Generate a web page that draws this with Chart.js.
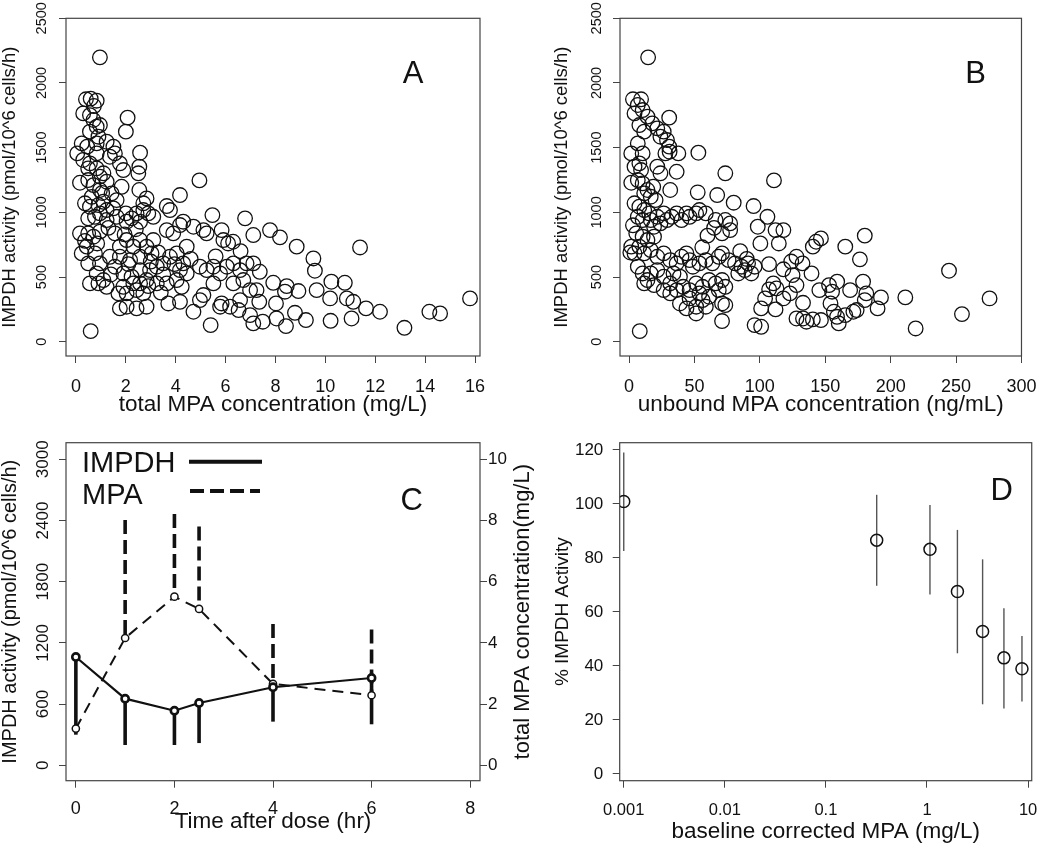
<!DOCTYPE html>
<html>
<head>
<meta charset="utf-8">
<script src="https://cdn.jsdelivr.net/npm/chart.js@4.4.1/dist/chart.umd.min.js"></script>
<style>
body { margin: 0; background: #fff; }
#wrap { position: relative; width: 1050px; height: 843px; overflow: hidden; }
canvas { position: absolute; }
</style>
</head>
<body>
<div id="wrap">
<canvas id="panelA" width="525" height="420" style="left:0;top:0;z-index:1"></canvas>
<canvas id="panelB" width="525" height="420" style="left:525px;top:0;z-index:1"></canvas>
<canvas id="panelC" width="560" height="423" style="left:0;top:420px;z-index:1"></canvas>
<canvas id="panelD" width="525" height="423" style="left:525px;top:420px;z-index:2"></canvas>
</div>
<script>
// panel A: total MPA (mg/L) vs IMPDH activity
const aTotalMpa = [0.96,0.40,0.59,0.83,0.72,0.29,0.56,0.70,0.83,0.96,0.56,0.90,2.07,2.00,0.23,0.45,0.83,1.23,1.50,1.56,
  1.36,0.83,0.05,0.29,0.56,0.49,0.83,0.96,1.10,1.76,1.90,2.57,2.54,2.50,2.54,0.16,0.49,0.70,0.96,1.23,
  1.43,1.83,1.63,2.83,2.70,4.95,4.17,3.64,3.77,0.36,0.56,0.90,1.10,1.23,1.50,0.96,0.49,0.76,1.23,1.63,
  2.00,2.23,2.43,2.70,2.90,3.10,2.57,2.03,5.47,6.78,3.64,3.90,4.17,4.30,4.71,5.11,5.24,5.84,5.91,6.10,
  6.30,7.11,7.78,8.18,8.85,9.52,9.58,9.65,11.39,0.49,0.70,0.96,0.43,0.76,0.96,1.36,0.23,0.49,0.83,1.10,
  0.56,0.90,1.23,1.56,1.76,2.03,2.30,2.57,2.83,3.10,3.03,2.57,2.17,1.76,1.56,1.90,2.23,2.57,2.97,3.24,
  3.50,3.77,4.04,4.44,4.30,4.17,4.44,4.04,4.24,3.64,3.24,2.83,2.57,2.30,1.90,1.70,2.03,2.43,2.70,1.76,
  2.03,2.43,2.83,3.70,4.17,4.71,4.97,5.11,5.40,4.97,5.24,5.51,5.78,6.05,6.31,6.58,6.84,7.11,7.37,6.71,
  6.31,6.98,7.24,6.58,6.18,6.52,6.98,7.11,7.49,7.35,5.78,5.84,5.51,7.91,8.45,8.38,8.92,8.02,8.04,8.42,
  8.78,9.22,10.19,10.24,10.21,10.78,10.86,11.12,11.05,11.63,12.19,13.17,14.17,14.60,15.80,0.59,0.16,0.36,0.63,1.05,
  1.30,0.85,1.95,2.40,3.30,3.50,1.40,2.10,3.00,3.95,4.60,5.60,6.60,2.90,3.40];
const aImpdh = [2198,1874,1879,1863,1822,1765,1752,1714,1662,1675,1624,1585,1732,1624,1533,1508,1533,1546,1508,1456,
  1430,1456,1456,1405,1379,1340,1340,1276,1302,1379,1327,1461,1353,1302,1173,1229,1250,1211,1173,1237,
  1147,1198,1095,1108,1070,1247,1134,1049,1018,1070,1044,1057,1082,1018,1031,992,954,966,941,966,
  992,954,992,1018,992,966,928,928,979,954,863,838,902,928,889,863,838,863,786,760,
  773,825,863,807,735,644,549,399,729,838,812,851,735,683,606,657,683,606,528,477,
  451,451,425,838,735,786,735,786,735,786,683,657,631,657,580,528,503,554,554,580,
  606,657,683,735,606,554,528,477,425,451,451,477,451,451,425,374,374,399,374,258,
  271,258,271,296,309,232,322,361,129,580,554,580,528,580,606,554,606,606,541,477,
  451,399,399,322,271,245,206,142,155,309,271,296,451,456,430,387,392,296,180,121,
  224,168,335,464,162,456,335,309,180,258,232,108,232,219,335,82,838,780,1120,1150,
  880,760,830,870,690,520,520,600,620,600,640,660,700,430,380];

// panel B: unbound MPA (ng/mL) vs IMPDH activity
const bFreeMpa = [14.6,3.0,9.2,6.7,4.2,10.4,14.1,17.8,21.6,26.5,24.0,29.0,30.7,27.8,31.0,30.7,11.6,7.9,1.7,6.7,
  10.4,7.9,4.2,9.2,1.7,6.7,10.4,11.6,14.1,18.5,16.6,20.3,37.7,36.4,31.5,24.0,21.6,53.0,52.5,73.6,
  67.4,80.0,95.2,110.8,105.8,98.4,100.4,112.0,118.0,114.5,128.0,132.6,139.5,140.5,143.0,146.7,165.3,176.5,180.2,178.9,
  181.4,180.2,190.0,192.6,211.2,219.1,244.6,254.5,275.6,152.9,159.1,155.2,145.5,169.0,154.0,156.6,159.0,160.3,146.7,140.5,
  133.0,135.6,128.0,133.0,128.0,125.0,123.0,118.0,112.7,110.3,107.1,104.0,101.0,112.0,96.0,101.0,171.5,165.3,174.0,4.2,
  7.9,11.6,15.4,6.7,10.4,16.6,21.6,26.5,19.1,24.0,29.0,32.7,36.4,40.1,43.9,46.3,51.3,53.8,58.7,66.2,
  73.6,77.3,71.1,77.3,5.5,10.4,14.1,19.1,7.9,11.6,16.6,21.6,26.5,31.5,36.4,40.1,43.9,46.3,48.8,53.8,
  58.7,63.7,68.6,71.1,76.1,81.0,86.0,91.0,96.0,93.5,88.5,83.5,4.2,1.7,6.7,10.4,14.1,19.1,11.6,16.6,
  21.6,26.5,31.5,34.0,38.9,41.4,46.3,51.3,56.2,61.2,66.2,71.1,73.6,68.6,61.2,56.2,51.3,43.9,38.9,46.3,
  53.8,71.1,73.6,71.1,51.3,58.7,31.5,26.5,36.4,8.2,1.0,3.0,60.0,65.0,85.0,90.0,118.0,107.0,124.0,56.0];
const bImpdh = [2198,1874,1874,1830,1765,1791,1740,1688,1649,1624,1585,1559,1508,1456,1469,1732,1624,1675,1456,1533,
  1456,1379,1353,1327,1229,1250,1224,1147,1173,1198,1121,1095,1456,1314,1173,1302,1353,1461,1155,1302,
  1134,1075,1049,1247,966,889,760,863,863,760,657,606,528,735,773,799,735,637,820,464,
  374,322,258,343,343,103,549,214,335,438,464,387,399,399,296,232,193,142,168,173,
  180,155,180,301,438,515,374,335,412,451,405,335,258,250,129,116,232,206,245,1070,
  1044,1018,992,966,941,941,966,992,889,915,941,966,992,941,992,966,992,1018,992,941,
  941,915,838,863,838,812,786,812,735,683,709,657,683,631,606,657,683,631,580,606,
  631,606,657,683,631,606,580,606,580,528,554,528,683,735,580,528,477,438,451,528,
  554,503,451,528,503,425,399,451,425,477,451,477,425,399,348,322,271,258,296,335,
  374,296,283,160,219,271,374,399,399,82,690,900,820,880,700,640,560,600,620,730];

// panel C: time course
const timesC = [0, 1, 2, 2.5, 4, 6];
const impdhC = [1062, 653, 535, 611, 765, 856];
const impdhLowC = [300, 199, 199, 218, 428, 402];
const mpaC = [1.20, 4.16, 5.51, 5.11, 2.66, 2.29];
const mpaHighC = [null, 8.02, 8.21, 7.80, 4.62, 4.44];

// panel D: % activity vs baseline corrected MPA
const mpaD = [0.001, 0.318, 1.07, 2.0, 3.55, 5.77, 8.7];
const pctD = [100.9, 86.6, 83.2, 67.6, 52.8, 43.0, 39.0];
const pctLowD = [82.6, 69.7, 66.5, 44.7, 25.8, 24.2, 26.8];
const pctHighD = [119.1, 103.4, 99.6, 90.4, 79.5, 61.4, 51.1];

// tick values
const xTicksA = [0, 2, 4, 6, 8, 10, 12, 14, 16];
const xTicksB = [0, 50, 100, 150, 200, 250, 300];
const yTicksAB = [0, 500, 1000, 1500, 2000, 2500];
const xTicksC = [0, 2, 4, 6, 8];
const yTicksC = [0, 600, 1200, 1800, 2400, 3000];
const y2TicksC = [0, 2, 4, 6, 8, 10];
const xTicksD = [0.001, 0.01, 0.1, 1, 10];
const yTicksD = [0, 20, 40, 60, 80, 100, 120];

const FONT = "'Liberation Sans', Arial, Helvetica, sans-serif";
Chart.defaults.font.family = FONT;
Chart.defaults.color = '#111';
Chart.defaults.animation = false;
Chart.defaults.events = [];
Chart.defaults.plugins.legend.display = false;
Chart.defaults.plugins.tooltip.enabled = false;

function pairs(xs, ys) {
  return xs.map((x, i) => ({x: x, y: ys[i]}));
}

function axis(o) {
  return {
    type: o.type || 'linear',
    position: o.position,
    min: o.min,
    max: o.max,
    border: {display: false},
    grid: {display: true, drawOnChartArea: false, drawTicks: true, tickLength: 7, tickColor: '#444', tickWidth: 1},
    ticks: {
      autoSkip: false,
      font: {size: o.tickSize},
      color: '#111',
      padding: o.tickPad,
      minRotation: o.rot || 0,
      maxRotation: o.rot || 0,
      crossAlign: o.cross || 'near',
      callback: v => String(v)
    },
    title: o.title
      ? {display: true, text: o.title, color: '#111', font: {size: o.titleSize, lineHeight: 1}, padding: o.titlePad}
      : {display: false},
    afterBuildTicks: s => { s.ticks = o.ticks.map(v => ({value: v})); },
    afterFit: s => {
      if (o.position === 'bottom') s.height = o.size;
      else s.width = o.size;
    }
  };
}

// frame round the plot area
const boxPlugin = {
  id: 'box',
  afterDraw(chart) {
    const a = chart.chartArea, ctx = chart.ctx;
    ctx.save();
    ctx.strokeStyle = '#444';
    ctx.lineWidth = 1.2;
    ctx.strokeRect(a.left, a.top, a.right - a.left, a.bottom - a.top);
    ctx.restore();
  }
};

function textPlugin(items) {
  return {
    id: 'panelText',
    afterDraw(chart) {
      const ctx = chart.ctx;
      items.forEach(t => {
        ctx.save();
        ctx.font = t.size + 'px ' + FONT;
        ctx.fillStyle = '#111';
        ctx.textAlign = t.align || 'center';
        ctx.textBaseline = 'middle';
        ctx.translate(t.x, t.y);
        if (t.rot) ctx.rotate(t.rot);
        ctx.fillText(t.text, 0, 0);
        ctx.restore();
      });
    }
  };
}

function errorBars(bars) {
  return {
    id: 'errorBars',
    beforeDatasetsDraw(chart) {
      const ctx = chart.ctx, xs = chart.scales.x;
      bars.forEach(b => {
        const ys = chart.scales[b.axis];
        ctx.save();
        ctx.strokeStyle = b.color;
        ctx.lineWidth = b.width;
        ctx.setLineDash(b.dash || []);
        b.x.forEach((xv, i) => {
          if (b.from[i] == null || b.to[i] == null) return;
          const px = xs.getPixelForValue(xv);
          ctx.beginPath();
          ctx.moveTo(px, ys.getPixelForValue(b.from[i]));
          ctx.lineTo(px, ys.getPixelForValue(b.to[i]));
          ctx.stroke();
        });
        ctx.restore();
      });
    }
  };
}

const legendC = {
  id: 'legendC',
  afterDraw(chart) {
    const ctx = chart.ctx;
    ctx.save();
    ctx.strokeStyle = '#111';
    ctx.lineWidth = 4;
    ctx.beginPath(); ctx.moveTo(189, 41.7); ctx.lineTo(262, 41.7); ctx.stroke();
    ctx.setLineDash([14, 6]);
    ctx.beginPath(); ctx.moveTo(190, 71); ctx.lineTo(260, 71); ctx.stroke();
    ctx.restore();
  }
};

const circles = {
  pointRadius: 7.3,
  pointBorderWidth: 1.3,
  pointBorderColor: '#111',
  pointBackgroundColor: 'rgba(0,0,0,0)'
};

new Chart(document.getElementById('panelA'), {
  type: 'scatter',
  data: {datasets: [Object.assign({data: pairs(aTotalMpa, aImpdh)}, circles)]},
  options: {
    responsive: false,
    layout: {padding: {left: 0, top: 18.3, right: 45, bottom: 0}},
    scales: {
      x: axis({position: 'bottom', min: -0.4, max: 16.2, ticks: xTicksA, tickSize: 18, tickPad: 13.5,
        title: 'total MPA concentration (mg/L)', titleSize: 22.5, titlePad: {top: 0, bottom: 3.8}, size: 64}),
      y: axis({position: 'left', min: -110, max: 2500, ticks: yTicksAB, tickSize: 14.5, tickPad: 1.2, rot: 90, cross: 'center',
        title: 'IMPDH activity (pmol/10^6 cells/h)', titleSize: 18.5, titlePad: {top: 1, bottom: 0}, size: 66})
    }
  },
  plugins: [boxPlugin, textPlugin([{text: 'A', x: 413, y: 74, size: 31}])]
});

new Chart(document.getElementById('panelB'), {
  type: 'scatter',
  data: {datasets: [Object.assign({data: pairs(bFreeMpa, bImpdh)}, circles)]},
  options: {
    responsive: false,
    layout: {padding: {left: 0, top: 18.3, right: 17.3, bottom: 0}},
    scales: {
      x: axis({position: 'bottom', min: -6.9, max: 300, ticks: xTicksB, tickSize: 18, tickPad: 13.5,
        title: 'unbound MPA concentration (ng/mL)', titleSize: 22.5, titlePad: {top: 0, bottom: 3.8}, size: 64}),
      y: axis({position: 'left', min: -110, max: 2500, ticks: yTicksAB, tickSize: 14.5, tickPad: 0.2, rot: 90, cross: 'center',
        title: 'IMPDH activity (pmol/10^6 cells/h)', titleSize: 18.5, titlePad: {top: 28, bottom: 0}, size: 95})
    }
  },
  plugins: [boxPlugin, textPlugin([{text: 'B', x: 450.7, y: 74, size: 31}])]
});

new Chart(document.getElementById('panelC'), {
  type: 'scatter',
  data: {
    datasets: [
      {
        data: pairs(timesC, impdhC), yAxisID: 'y', showLine: true,
        borderColor: '#111', borderWidth: 2.2,
        pointRadius: 3.6, pointBorderWidth: 2.6, pointBorderColor: '#111', pointBackgroundColor: '#fff'
      },
      {
        data: pairs(timesC, mpaC), yAxisID: 'y2', showLine: true,
        borderColor: '#111', borderWidth: 2, borderDash: [11, 7],
        pointRadius: 3.6, pointBorderWidth: 1.5, pointBorderColor: '#111', pointBackgroundColor: '#fff'
      }
    ]
  },
  options: {
    responsive: false,
    layout: {padding: {left: 0, top: 22.7, right: 0, bottom: 0}},
    scales: {
      x: axis({position: 'bottom', min: -0.2, max: 8.2, ticks: xTicksC, tickSize: 18, tickPad: 10.6,
        title: 'Time after dose (hr)', titleSize: 22.5, titlePad: {top: 0, bottom: 10}, size: 62.3}),
      y: axis({position: 'left', min: -151, max: 3162.7, ticks: yTicksC, tickSize: 17, tickPad: -3.2, rot: 90, cross: 'center',
        title: 'IMPDH activity (pmol/10^6 cells/h)', titleSize: 20, titlePad: {top: 0, bottom: 0}, size: 66}),
      y2: axis({position: 'right', min: -0.503, max: 10.542, ticks: y2TicksC, tickSize: 17, tickPad: 1, size: 80})
    }
  },
  plugins: [
    errorBars([
      {x: timesC, from: impdhC, to: impdhLowC, axis: 'y', color: '#111', width: 3.6},
      {x: timesC, from: mpaHighC, to: mpaC, axis: 'y2', color: '#111', width: 3.6, dash: [14, 6]}
    ]),
    boxPlugin,
    legendC,
    textPlugin([
      {text: 'C', x: 411.7, y: 81.7, size: 31},
      {text: 'IMPDH', x: 82, y: 44, size: 29, align: 'left'},
      {text: 'MPA', x: 82, y: 76, size: 29, align: 'left'},
      {text: 'total MPA concentration(mg/L)', x: 523, y: 191.7, size: 22, rot: -Math.PI / 2}
    ])
  ]
});

new Chart(document.getElementById('panelD'), {
  type: 'scatter',
  data: {
    datasets: [{
      data: pairs(mpaD, pctD),
      pointRadius: 6, pointBorderWidth: 1.5, pointBorderColor: '#111', pointBackgroundColor: 'rgba(0,0,0,0)'
    }]
  },
  options: {
    responsive: false,
    layout: {padding: {left: 0, top: 22.7, right: 17.3, bottom: 0}},
    scales: {
      x: axis({type: 'logarithmic', position: 'bottom', min: 0.000912, max: 10.87, ticks: xTicksD, tickSize: 16.5, tickPad: 12.6,
        title: 'baseline corrected MPA (mg/L)', titleSize: 22.5, titlePad: {top: 0, bottom: 0}, size: 62.3}),
      y: axis({position: 'left', min: -2.5, max: 122.7, ticks: yTicksD, tickSize: 17, tickPad: 9.4,
        title: '% IMPDH Activity', titleSize: 19, titlePad: {top: 28.5, bottom: 0}, size: 94.7})
    }
  },
  plugins: [
    errorBars([{x: mpaD, from: pctHighD, to: pctLowD, axis: 'y', color: '#555', width: 1.4}]),
    boxPlugin,
    textPlugin([{text: 'D', x: 476.7, y: 71.7, size: 31}])
  ]
});
</script>
</body>
</html>
